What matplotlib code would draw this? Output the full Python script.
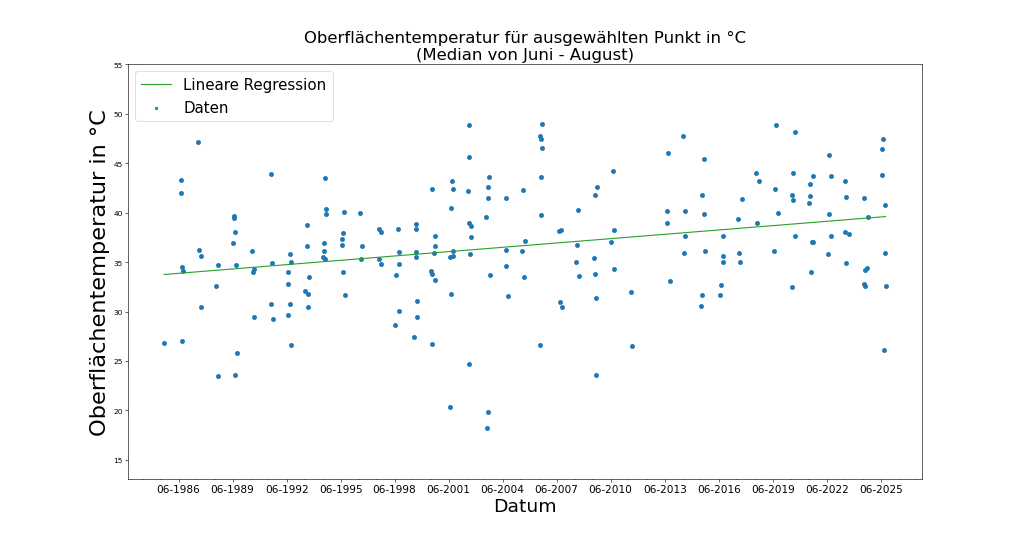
import numpy as np
import pandas as pd
import matplotlib
matplotlib.use("Agg")
import matplotlib.pyplot as plt
import matplotlib.dates as mdates

dates = [
    "1985-08-11",
    "1986-07-16", "1986-07-15", "1986-08-05", "1986-08-31", "1986-08-04",
    "1987-07-07", "1987-07-28", "1987-08-31", "1987-08-25",
    "1988-07-07", "1988-08-05", "1988-08-17",
    "1989-07-07", "1989-07-01", "1989-07-21", "1989-06-17", "1989-08-11", "1989-08-31", "1989-07-27",
    "1990-07-07", "1990-07-27", "1990-08-17", "1990-08-11",
    "1991-07-20", "1991-08-16", "1991-07-26", "1991-08-24",
    "1992-08-03", "1992-08-23", "1992-06-29", "1992-07-05", "1992-08-09", "1992-06-30", "1992-08-29",
    "1993-07-14", "1993-07-25", "1993-08-29", "1993-06-15", "1993-08-15", "1993-08-03",
    "1994-07-14", "1994-08-09", "1994-08-03", "1994-07-05", "1994-06-23", "1994-06-15", "1994-07-25",
    "1995-08-09", "1995-07-25", "1995-07-05", "1995-07-04", "1995-07-14", "1995-08-29",
    "1996-06-23", "1996-08-15", "1996-07-19",
    "1997-07-19", "1997-08-23", "1997-07-18", "1997-09-04",
    "1998-08-09", "1998-08-23", "1998-08-29", "1998-07-05", "1998-09-04", "1998-06-15",
    "1999-08-03", "1999-08-09", "1999-08-08", "1999-08-02", "1999-08-23", "1999-08-29", "1999-06-29",
    "2000-06-28", "2000-08-28", "2000-08-27", "2000-08-02", "2000-06-08", "2000-06-29", "2000-09-03", "2000-06-27",
    "2001-08-14", "2001-08-21", "2001-07-12", "2001-09-03", "2001-06-21", "2001-09-02", "2001-07-13", "2001-06-28",
    "2002-07-12", "2002-07-11", "2002-07-04", "2002-07-10", "2002-09-03", "2002-08-21", "2002-08-08", "2002-07-19",
    "2003-08-27", "2003-08-14", "2003-08-07", "2003-07-04", "2003-09-10", "2003-08-06", "2003-07-24",
    "2004-08-01", "2004-08-07", "2004-08-02", "2004-09-16",
    "2005-07-24", "2005-08-27", "2005-06-21", "2005-08-13",
    "2006-08-13", "2006-06-27", "2006-07-12", "2006-08-01", "2006-07-11", "2006-07-24", "2006-06-21",
    "2007-07-18", "2007-08-27", "2007-08-07", "2007-09-10",
    "2008-08-01", "2008-07-24", "2008-07-03", "2008-09-02",
    "2009-08-27", "2009-07-24", "2009-06-27", "2009-07-12", "2009-08-01", "2009-08-13",
    "2010-07-17", "2010-08-12", "2010-06-12", "2010-08-11",
    "2011-07-10", "2011-07-30",
    "2013-08-05", "2013-07-22", "2013-07-21", "2013-09-14",
    "2014-06-11", "2014-07-22", "2014-07-10", "2014-07-01",
    "2015-08-05", "2015-06-19", "2015-08-11", "2015-08-31", "2015-07-01", "2015-06-11",
    "2016-08-19", "2016-08-31", "2016-08-30", "2016-07-22", "2016-07-01",
    "2017-09-08", "2017-06-25", "2017-07-10", "2017-07-30",
    "2018-06-19", "2018-08-31", "2018-07-10",
    "2019-08-05", "2019-07-10", "2019-09-08", "2019-06-25",
    "2020-08-24", "2020-07-21", "2020-06-30", "2020-07-08", "2020-08-23", "2020-06-18",
    "2021-08-18", "2021-06-24", "2021-06-18", "2021-06-10", "2021-07-29", "2021-08-24", "2021-07-08",
    "2022-07-14", "2022-08-18", "2022-07-21", "2022-08-17", "2022-06-30",
    "2023-06-09", "2023-07-07", "2023-06-01", "2023-08-23", "2023-06-23",
    "2024-06-23", "2024-09-06", "2024-08-23", "2024-07-20", "2024-06-17", "2024-07-07",
    "2025-07-07", "2025-06-29", "2025-06-17", "2025-08-23", "2025-08-22", "2025-09-06", "2025-08-03",
]

temps = [
    26.8,
    43.3, 42.0, 34.5, 34.1, 27.0,
    47.1, 36.25, 35.6, 30.5,
    32.6, 34.7, 23.45,
    39.7, 39.5, 38.0, 36.95, 34.7, 25.8, 23.6,
    36.1, 34.0, 34.3, 29.4,
    43.95, 34.9, 30.8, 29.2,
    35.8, 35.0, 34.0, 32.8, 30.8, 29.7, 26.6,
    38.7, 36.65, 33.5, 32.1, 31.8, 30.5,
    43.45, 40.4, 39.9, 36.9, 36.1, 35.55, 35.3,
    40.1, 37.9, 37.3, 36.7, 34.0, 31.7,
    39.95, 36.6, 35.3,
    38.3, 38.0, 35.3, 34.8,
    38.3, 36.0, 34.8, 33.7, 30.05, 28.6,
    38.8, 38.3, 36.0, 35.5, 31.1, 29.4, 27.4,
    42.4, 37.6, 36.6, 35.9, 34.1, 33.75, 33.15, 26.7,
    43.2, 42.4, 40.5, 36.1, 35.5, 35.6, 31.8, 20.3,
    48.85, 45.65, 42.2, 38.9, 38.65, 37.5, 35.8, 24.7,
    43.55, 42.6, 41.45, 39.6, 33.7, 19.8, 18.2,
    41.45, 36.2, 34.65, 31.6,
    42.25, 37.15, 36.15, 33.5,
    49.0, 47.7, 47.4, 46.55, 43.6, 39.75, 26.6,
    38.1, 38.2, 30.95, 30.5,
    40.3, 36.7, 35.05, 33.6,
    42.6, 41.8, 35.45, 33.8, 31.35, 23.6,
    44.2, 38.2, 37.0, 34.3,
    31.95, 26.5,
    46.05, 40.2, 38.9, 33.05,
    47.7, 40.2, 37.65, 35.95,
    45.4, 41.75, 39.9, 36.15, 31.65, 30.6,
    37.65, 35.6, 35.0, 32.65, 31.65,
    41.35, 39.35, 35.9, 35.05,
    44.0, 43.2, 38.9,
    48.85, 42.35, 40.0, 36.15,
    48.15, 44.05, 41.8, 41.25, 37.65, 32.45,
    43.7, 42.85, 41.65, 41.0, 37.05, 37.0, 34.0,
    45.85, 43.7, 39.9, 37.65, 35.8,
    43.2, 41.6, 38.0, 37.85, 34.9,
    41.45, 39.55, 34.45, 34.15, 32.8, 32.6,
    47.45, 46.4, 43.8, 40.75, 35.9, 32.55, 26.1,
]

yticks = [15, 20, 25, 30, 35, 40, 45, 50, 55]

dt = pd.to_datetime(dates)
x = mdates.date2num(dt)
y = np.array(temps)

# linear regression
coef = np.polyfit(x, y, 1)
xs = np.array([x.min(), x.max()])
ys = np.polyval(coef, xs)

DPI = 1024 / 19
fig, ax = plt.subplots(figsize=(19, 10), dpi=DPI)
ax.plot(mdates.num2date(xs), ys, color="tab:green", label="Lineare Regression")
ax.scatter(dt, y, s=30, color="tab:blue", label="Daten")

ax.set_ylim(13.1, 55.05)
ax.set_yticks(yticks)

ax.xaxis.set_major_locator(mdates.YearLocator(3, month=6))
ax.xaxis.set_minor_locator(mdates.YearLocator(1, month=6))
ax.xaxis.set_major_formatter(mdates.DateFormatter("%m-%Y"))
ax.tick_params(axis="x", labelsize=14)

ax.set_title("Oberflächentemperatur für ausgewählten Punkt in °C\n(Median von Juni - August)", fontsize=22)
ax.set_xlabel("Datum", fontsize=25)
ax.set_ylabel("Oberflächentemperatur in °C", fontsize=30)
ax.legend(loc="upper left", fontsize=20, markerscale=0.6)

fig.savefig("out.png", dpi=DPI)
